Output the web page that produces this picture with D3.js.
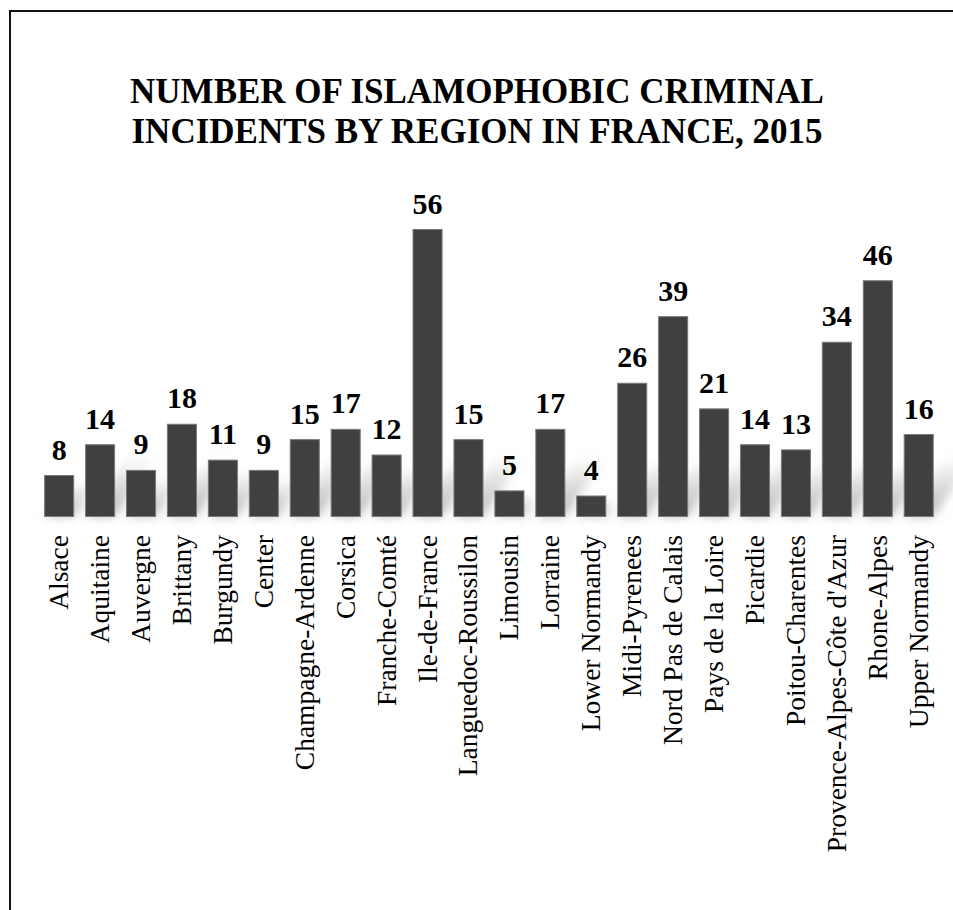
<!DOCTYPE html>
<html><head><meta charset="utf-8">
<script src="https://cdn.jsdelivr.net/npm/d3@7/dist/d3.min.js"></script>
<style>html,body{margin:0;padding:0;background:#fff;}svg{display:block;}</style>
</head><body><svg id="chart" width="953" height="910"></svg>
<script>
const categories = ["Alsace","Aquitaine","Auvergne","Brittany","Burgundy","Center","Champagne-Ardenne","Corsica","Franche-Comté","Ile-de-France","Languedoc-Roussilon","Limousin","Lorraine","Lower Normandy","Midi-Pyrenees","Nord Pas de Calais","Pays de la Loire","Picardie","Poitou-Charentes","Provence-Alpes-Côte d'Azur","Rhone-Alpes","Upper Normandy"];
const values = [8,14,9,18,11,9,15,17,12,56,15,5,17,4,26,39,21,14,13,34,46,16];
const titleLines = ["NUMBER OF ISLAMOPHOBIC CRIMINAL","INCIDENTS BY REGION IN FRANCE, 2015"];

const svg = d3.select("#chart");
const font = "'Liberation Serif','Times New Roman',Times,serif";
const defs = svg.append("defs");
defs.append("filter").attr("id","blur").attr("x","-50%").attr("y","-50%").attr("width","200%").attr("height","200%")
  .append("feGaussianBlur").attr("stdDeviation",5);
const grad = defs.append("linearGradient").attr("id","shgrad").attr("x1",0).attr("y1",1).attr("x2",0).attr("y2",0);
grad.append("stop").attr("offset","0%").attr("stop-color","#888").attr("stop-opacity",0.6);
grad.append("stop").attr("offset","100%").attr("stop-color","#888").attr("stop-opacity",0);

// frame
svg.append("rect").attr("x",10).attr("y",11).attr("width",960).attr("height",920)
  .attr("fill","none").attr("stroke","#111").attr("stroke-width",2);

// title
svg.append("g").selectAll("text").data(titleLines).join("text")
  .attr("x",477).attr("y",(d,i)=>103+i*40)
  .attr("text-anchor","middle").attr("font-family",font).attr("font-weight","bold")
  .attr("font-size",35).attr("fill","#000").text(d=>d);

const x = d3.scaleBand().domain(categories).range([38.7,939.2]).paddingInner(0.29).paddingOuter(0.145);
const y = d3.scaleLinear().domain([0,56]).range([516.5,229.5]);
const base = y(0);

// shadows
svg.append("g").attr("filter","url(#blur)").selectAll("path").data(categories).join("path")
  .attr("fill","url(#shgrad)")
  .attr("d",(d,i)=>{
    const h = base - y(values[i]);
    const t = Math.min(h*0.85, 60), s = t*0.7;
    const x0 = x(d), w = x.bandwidth();
    return `M${x0},${base}L${x0+w},${base}L${x0+w+s},${base-t}L${x0+s},${base-t}Z`;
  });

// bars
svg.append("g").selectAll("rect").data(categories).join("rect")
  .attr("x",d=>x(d)).attr("width",x.bandwidth())
  .attr("y",(d,i)=>y(values[i])).attr("height",(d,i)=>base-y(values[i]))
  .attr("fill","#404040").attr("stroke","#7a7a7a").attr("stroke-width",1);

// value labels
svg.append("g").selectAll("text").data(categories).join("text")
  .attr("x",d=>x(d)+x.bandwidth()/2).attr("y",(d,i)=>y(values[i])-16)
  .attr("text-anchor","middle").attr("font-family",font).attr("font-weight","bold")
  .attr("font-size",30).attr("fill","#000").text((d,i)=>values[i]);

// category labels
svg.append("g").selectAll("text").data(categories).join("text")
  .attr("transform",d=>`translate(${x(d)+x.bandwidth()/2+9},535) rotate(-90)`)
  .attr("text-anchor","end").attr("font-family",font)
  .attr("font-size",27.5).attr("fill","#000").text(d=>d);
</script></body></html>
